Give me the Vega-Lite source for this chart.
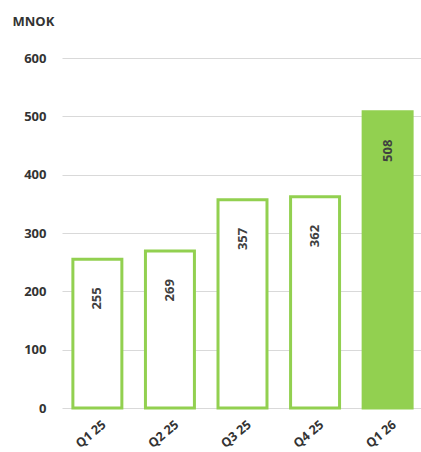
{
  "$schema": "https://vega.github.io/schema/vega-lite/v6.json",
  "autosize": "none",
  "width": 361,
  "height": 350,
  "padding": {"left": 62, "top": 58, "right": 0, "bottom": 44},
  "background": "white",
  "config": {"view": {"stroke": null}, "font": "Open Sans"},
  "data": {"values": [
    {"q": "Q1 25", "v": 255, "hl": "no"},
    {"q": "Q2 25", "v": 269, "hl": "no"},
    {"q": "Q3 25", "v": 357, "hl": "no"},
    {"q": "Q4 25", "v": 362, "hl": "no"},
    {"q": "Q1 26", "v": 508, "hl": "yes"}
  ]},
  "encoding": {
    "x": {"field": "q", "type": "nominal", "sort": null,
      "scale": {"paddingInner": 0.325, "paddingOuter": 0.15},
      "axis": {"title": null, "labelAngle": -40, "labelAlign": "right", "labelBaseline": "top",
        "labelFont": "Open Sans", "labelFontWeight": "bold", "labelFontSize": 12.5, "labelColor": "#333333",
        "ticks": false, "domain": false, "labelPadding": 10, "labelOffset": 3}},
    "y": {"field": "v", "type": "quantitative",
      "scale": {"domain": [0, 600]},
      "axis": {"values": [0, 100, 200, 300, 400, 500, 600], "grid": true, "gridColor": "#d9d9d9",
        "domain": false, "ticks": false, "labelPadding": 16,
        "labelFont": "Open Sans", "labelFontWeight": "bold", "labelFontSize": 13, "labelColor": "#333333",
        "title": "MNOK", "titleAngle": 0, "titleAlign": "left", "titleBaseline": "alphabetic",
        "titleX": -50, "titleY": -33, "titleFont": "Open Sans", "titleFontWeight": "bold",
        "titleFontSize": 13, "titleColor": "#333333"}}
  },
  "layer": [
    {"mark": {"type": "bar", "stroke": "#92D050", "strokeWidth": 3},
      "encoding": {"fill": {"field": "hl", "type": "nominal",
        "scale": {"domain": ["no", "yes"], "range": ["#ffffff", "#92D050"]}, "legend": null}}},
    {"mark": {"type": "text", "angle": -90, "align": "right", "baseline": "middle", "dx": -28,
        "font": "Open Sans", "fontWeight": "bold", "fontSize": 13, "color": "#404040"},
      "encoding": {"text": {"field": "v", "type": "quantitative"}}}
  ]
}
